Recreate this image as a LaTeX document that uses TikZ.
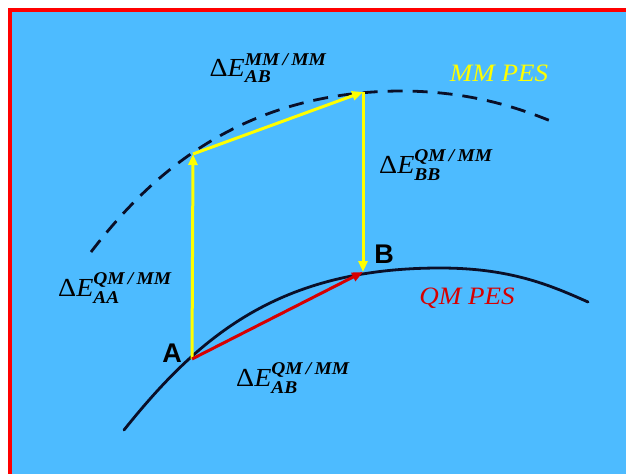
\documentclass[tikz,border=0pt]{standalone}
\usepackage{amsmath}
\usepackage{fontspec}
\setmainfont{Liberation Serif}
\newfontfamily\serf{Liberation Serif}
\newfontfamily\sansf{Liberation Sans}
\usetikzlibrary{arrows.meta}
\definecolor{bgblue}{RGB}{77,187,255}
\definecolor{qmred}{RGB}{215,0,0}
\definecolor{yel}{RGB}{255,255,0}
\definecolor{navy}{RGB}{10,15,40}
\newcommand{\scr}[1]{\text{\serf\bfseries\itshape\fontsize{18}{18}\selectfont #1}}
\newcommand{\dEl}[2]{$\text{\serf Δ\textit{E}}^{\scr{#1}}_{\scr{#2}}$}
\tikzset{
  yarrow/.style={draw=yel,line width=3pt,-{Triangle[length=11pt,width=9pt]}},
  rarrow/.style={draw=qmred,line width=3pt,-{Triangle[length=11pt,width=9pt]}},
  pes/.style={draw=navy,line width=2.8pt},
  elabel/.style={font=\serf\fontsize{26}{28}\selectfont,inner sep=0pt,xscale=1.08,transform shape},
  ptlabel/.style={font=\sansf\bfseries\fontsize{27}{30}\selectfont,inner sep=0pt},
  peslabel/.style={font=\serf\itshape\fontsize{25}{27}\selectfont,inner sep=0pt,xscale=1.08,transform shape}
}
\begin{document}
\begin{tikzpicture}[x=1pt,y=-1pt]
\useasboundingbox (0,0) rectangle (626,474);
\fill[white] (0,0) rectangle (626,474);
\fill[red] (8,8) rectangle (626,474);
\fill[bgblue] (12,12) rectangle (626,474);
% PES curves
\draw[pes,line cap=round] (124,430) .. controls (200,335) and (280,268) .. (440,268) .. controls (510,268) and (550,285) .. (588,302);
\draw[pes,dash pattern=on 15pt off 10pt] (91,252) .. controls (150,175) and (240,92) .. (400,91) .. controls (470,91) and (520,108) .. (558,124);
% points
\coordinate (A) at (192,359);
\coordinate (A2) at (193,154);
\coordinate (B2) at (363,92);
\coordinate (B) at (363,272);
\draw[yarrow] (A) -- (A2);
\draw[yarrow] (A2) -- (B2);
\draw[yarrow] (B2) -- (B);
\draw[rarrow] (A) -- (B);
% labels
\node[ptlabel] (la) at (172,353) {A};
\node[ptlabel] (lb) at (384,254) {B};
\node[elabel] (e1) at (268,68) {\dEl{MM\,/\,MM}{AB}};
\node[elabel] (e2) at (436,165) {\dEl{QM\,/\,MM}{BB}};
\node[elabel] (e3) at (115,288) {\dEl{QM\,/\,MM}{AA}};
\node[elabel] (e4) at (293,378) {\dEl{QM\,/\,MM}{AB}};
\node[peslabel,text=yel] (mm) at (499,73) {MM PES};
\node[peslabel,text=qmred] (qm) at (467,298) {QM PES};
\end{tikzpicture}
\end{document}
